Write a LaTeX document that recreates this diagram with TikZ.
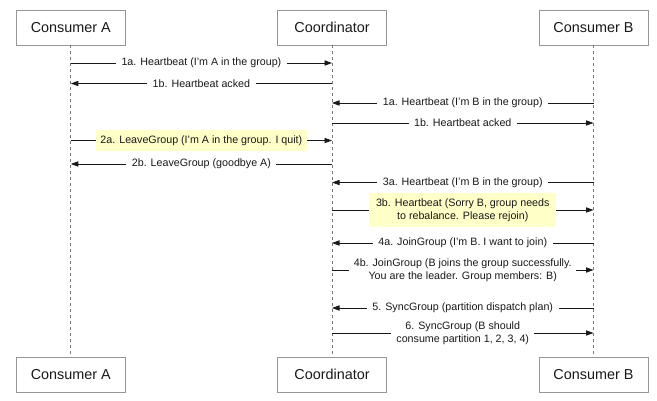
\documentclass[tikz,border=0pt]{standalone}
\usepackage{fontspec}
\setmainfont{Liberation Sans}
\usetikzlibrary{arrows.meta}
\definecolor{notefill}{RGB}{255,255,200}
\definecolor{boxline}{RGB}{150,150,150}
\definecolor{lifeline}{RGB}{120,120,120}
\definecolor{ink}{RGB}{25,25,25}
\begin{document}
\begin{tikzpicture}[x=1pt,y=-1pt,
  actor/.style={draw=boxline, line width=0.8pt, fill=white, minimum width=109pt,
    minimum height=35pt, inner sep=0pt, text=ink, font=\fontsize{14.4}{17}\selectfont},
  life/.style={draw=lifeline, line width=0.8pt, dash pattern=on 3pt off 3pt},
  msg/.style={draw=ink, line width=0.8pt, -{Triangle[length=7.5pt,width=5.2pt]}},
  lbl/.style={fill=white, text=ink, font=\fontsize{10.7}{13.5}\selectfont,
    inner xsep=5.5pt, inner ysep=1pt, align=center},
  hl/.style={fill=notefill, text=ink, font=\fontsize{10.7}{13.5}\selectfont,
    inner xsep=4.5pt, inner ysep=1pt, minimum height=21pt, align=center}
]
\useasboundingbox (0,0) rectangle (657,400);

% participants, top and bottom
\node[actor] (tA) at (70.8,27.5)  {Consumer A};
\node[actor] (tC) at (332,27.5)   {Coordinator};
\node[actor] (tB) at (593.5,27.5) {Consumer B};
\node[actor] (bA) at (70.8,374.8)  {Consumer A};
\node[actor] (bC) at (332,374.8)   {Coordinator};
\node[actor] (bB) at (593.5,374.8) {Consumer B};

% lifelines
\draw[life] (tA) -- (bA);
\draw[life] (tC) -- (bC);
\draw[life] (tB) -- (bB);

% message rows
\coordinate (r1)  at (0,63);
\coordinate (r2)  at (0,83.5);
\coordinate (r3)  at (0,103);
\coordinate (r4)  at (0,123);
\coordinate (r5)  at (0,140.5);
\coordinate (r6)  at (0,164);
\coordinate (r7)  at (0,182.5);
\coordinate (r8)  at (0,210);
\coordinate (r9)  at (0,243);
\coordinate (r10) at (0,270);
\coordinate (r11) at (0,308);
\coordinate (r12) at (0,333);

% Consumer A and the coordinator
\draw[msg] (tA |- r1) -- node[lbl] {1a. Heartbeat (I'm A in the group)} (tC |- r1);
\draw[msg] (tC |- r2) -- node[lbl] {1b. Heartbeat acked} (tA |- r2);

% Consumer B joins the heartbeat cycle
\draw[msg] (tB |- r3) -- node[lbl] {1a. Heartbeat (I'm B in the group)} (tC |- r3);
\draw[msg] (tC |- r4) -- node[lbl] {1b. Heartbeat acked} (tB |- r4);

% Consumer A leaves
\draw[msg] (tA |- r5) -- node[hl] {2a. LeaveGroup (I'm A in the group. I quit)} (tC |- r5);
\draw[msg] (tC |- r6) -- node[lbl] {2b. LeaveGroup (goodbye A)} (tA |- r6);

% rebalance of Consumer B
\draw[msg] (tB |- r7) -- node[lbl] {3a. Heartbeat (I'm B in the group)} (tC |- r7);
\draw[msg] (tC |- r8) -- node[hl, minimum width=187pt, minimum height=34pt]
  {3b. Heartbeat (Sorry B, group needs\\to rebalance. Please rejoin)} (tB |- r8);
\draw[msg] (tB |- r9) -- node[lbl] {4a. JoinGroup (I'm B. I want to join)} (tC |- r9);
\draw[msg] (tC |- r10) -- node[lbl, inner xsep=4.5pt]
  {4b. JoinGroup (B joins the group successfully.\\You are the leader. Group members: B)} (tB |- r10);
\draw[msg] (tB |- r11) -- node[lbl] {5. SyncGroup (partition dispatch plan)} (tC |- r11);
\draw[msg] (tC |- r12) -- node[lbl, inner xsep=5pt]
  {6. SyncGroup (B should\\consume partition 1, 2, 3, 4)} (tB |- r12);
\end{tikzpicture}
\end{document}
